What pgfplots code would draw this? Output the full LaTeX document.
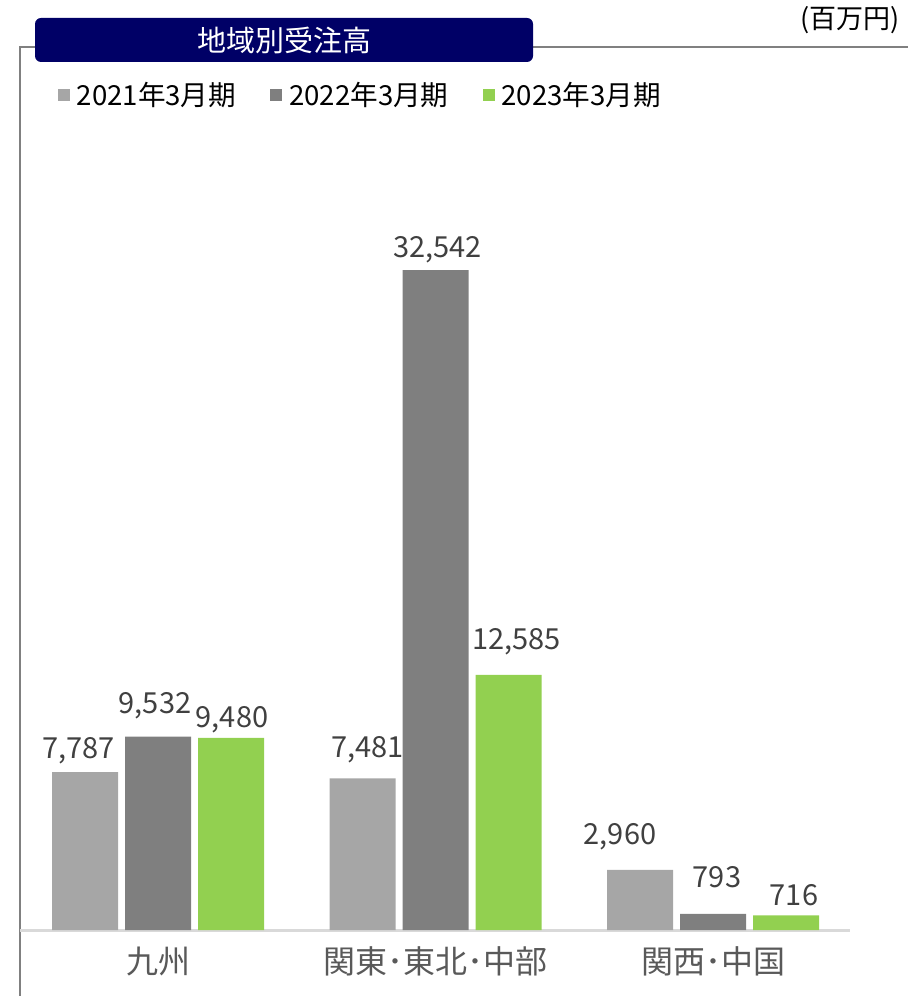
\documentclass[border=0pt]{standalone}
\usepackage{fontspec}
\setmainfont{Noto Sans CJK JP}
\usepackage{pgfplots}
\usepackage{pgfplotstable}
\pgfplotsset{compat=1.18}
\definecolor{lgray}{HTML}{A6A6A6}
\definecolor{dgray}{HTML}{7F7F7F}
\definecolor{lgreen}{HTML}{92D050}
\definecolor{navy}{HTML}{000066}
\definecolor{framegray}{HTML}{808080}
\definecolor{basegray}{HTML}{D9D9D9}
% x = region, y = value, dx/dy = label nudge (pt)
\pgfplotstableread{
x y dx dy
0 7787 -3.25 0.5
1 7481 2.5 4
2 2960 -10 6.5
}\fyA
\pgfplotstableread{
x y dx dy
0 9532 -1.5 5
1 32542 1 0
2 793 2 9.5
}\fyB
\pgfplotstableread{
x y dx dy
0 9480 0.5 -1.5
1 12585 4 6
2 716 4 1
}\fyC
\begin{document}
\begin{tikzpicture}
\useasboundingbox (-10pt,-33pt) rectangle (444pt,465pt);
% frame
\draw[framegray, line width=1pt] (0pt,-33pt) -- (0pt,441.5pt) -- (444pt,441.5pt);
\begin{axis}[
    scale only axis,
    width=415pt, height=441.5pt,
    ybar=3.5pt, bar width=33pt,
    xmin=-0.4973, xmax=2.4937,
    ymin=0, ymax=43550,
    axis x line*=bottom,
    axis y line=none,
    x axis line style={basegray, line width=1.5pt},
    xtick={0,1,2},
    xticklabels={九州, 関東･東北･中部, 関西･中国},
    major tick length=0pt,
    xticklabel style={font=\fontsize{16}{19}\selectfont, text=black!65, yshift=-5pt},
    clip=false,
    nodes near coords,
    visualization depends on={\thisrow{dx} \as \dx},
    visualization depends on={\thisrow{dy} \as \dy},
    nodes near coords style={font=\fontsize{14.5}{17}\selectfont, text=black!75, inner sep=0pt,
        xshift=\dx pt, yshift=3.5pt+\dy pt},
    /pgf/number format/.cd, 1000 sep={,}, assume math mode=true,
    /pgfplots/.cd,
    legend columns=3,
    legend style={draw=none, fill=none, at={(0.045,0.9457)}, anchor=west, inner sep=0pt,
        font=\fontsize{13.8}{16}\selectfont,
        /tikz/every odd column/.append style={column sep=1.5pt},
        /tikz/every even column/.append style={column sep=15pt}},
    legend image code/.code={\fill[#1] (0pt,-3pt) rectangle (6pt,3pt);},
]
\addplot[fill=lgray, draw=none] table[x=x, y=y] {\fyA};
\addplot[fill=dgray, draw=none] table[x=x, y=y] {\fyB};
\addplot[fill=lgreen, draw=none] table[x=x, y=y] {\fyC};
\legend{2021年3月期, 2022年3月期, 2023年3月期}
\end{axis}
% title box
\fill[navy, rounded corners=3pt] (7.5pt,434pt) rectangle (256.5pt,456pt);
\node[text=white, font=\fontsize{14.5}{17}\selectfont] at (132pt,445pt) {地域別受注高};
\node[anchor=east, font=\fontsize{13.5}{16}\selectfont, inner sep=0pt] at (440pt,455pt) {(百万円)};
\end{tikzpicture}
\end{document}
